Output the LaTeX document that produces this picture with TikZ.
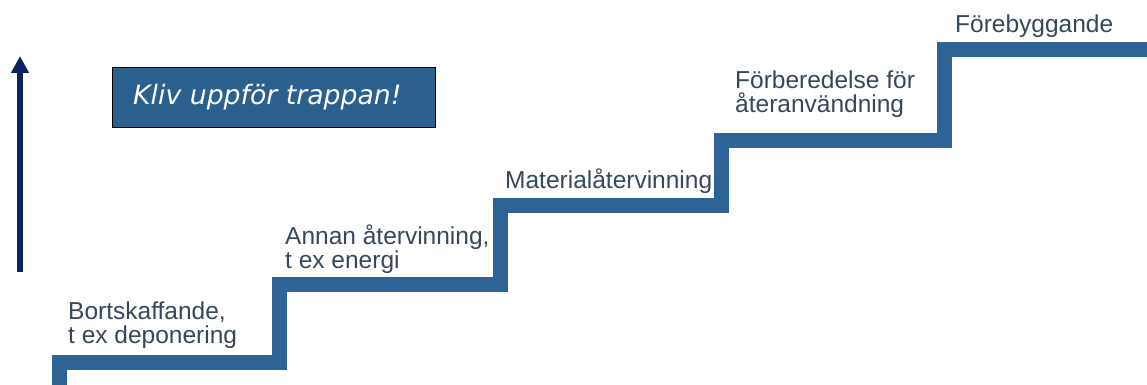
\documentclass[tikz,border=0pt]{standalone}
\usepackage{fontspec}
\setmainfont{Liberation Sans}
\newfontfamily\boxfont{DejaVu Sans}
\usetikzlibrary{arrows.meta}
\definecolor{stairblue}{HTML}{2E6396}
\definecolor{labelgrey}{HTML}{37475B}
\definecolor{boxblue}{HTML}{2B5F8E}
\definecolor{arrownavy}{HTML}{0B2262}
\tikzset{
  steplabel/.style={anchor=base west, inner sep=0pt, align=left, text=labelgrey,
    font=\fontsize{24.5}{24}\selectfont},
  stairline/.style={draw=stairblue, line width=15pt, line join=miter, line cap=butt},
}
\begin{document}
\begin{tikzpicture}[x=1pt,y=-1pt]
\useasboundingbox (0,0) rectangle (1147,385);
% stair path
\coordinate (s0) at (59.5,392);
\coordinate (s1) at (59.5,362.5);
\coordinate (s2) at (279,362.5);
\coordinate (s3) at (279,284.5);
\coordinate (s4) at (500.5,284.5);
\coordinate (s5) at (500.5,205.5);
\coordinate (s6) at (721,205.5);
\coordinate (s7) at (721,140);
\coordinate (s8) at (944,140);
\coordinate (s9) at (944,49.5);
\coordinate (s10) at (1155,49.5);
\draw[stairline] (s0) -- (s1) -- (s2) -- (s3) -- (s4) -- (s5) -- (s6) -- (s7) -- (s8) -- (s9) -- (s10);
% arrow
\coordinate (abot) at (20,272);
\coordinate (atop) at (20,56);
\draw[arrownavy, line width=5.5pt, -{Triangle[length=17pt,width=17pt]}] (abot) -- (atop);
% box
\node[draw=black, line width=1pt, fill=boxblue, minimum width=323pt, minimum height=59pt,
  inner sep=0pt] (title) at (273.5,97.5) {};
\node[anchor=west, inner sep=0pt, text=white, font=\boxfont\itshape\fontsize{26.7}{26.7}\selectfont]
  (titletext) at (133,97.5) {Kliv uppför trappan!};
% labels
\node[steplabel] (l1) at (68,343) {Bortskaffande,\\t ex deponering};
\node[steplabel] (l2) at (285,268) {Annan återvinning,\\t ex energi};
\node[steplabel] (l3) at (505,188) {Materialåtervinning};
\node[steplabel] (l4) at (735,113) {Förberedelse för\\återanvändning};
\node[steplabel] (l5) at (955,33) {Förebyggande};
\end{tikzpicture}
\end{document}
